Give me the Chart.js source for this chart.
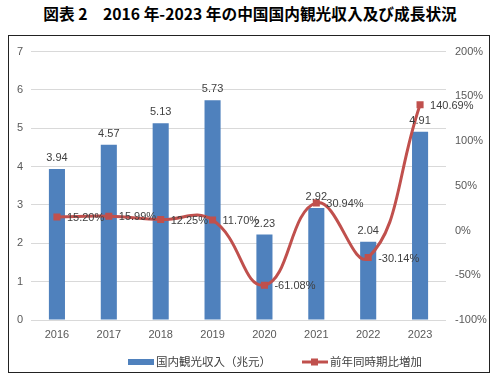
<!DOCTYPE html>
<html>
<head>
  <script src="https://cdnjs.cloudflare.com/ajax/libs/Chart.js/4.4.1/chart.umd.min.js"></script>
  <style>
    body {
      margin: 0;
      background: #fff;
      width: 500px;
      height: 380px;
      position: relative;
      font-family: "Noto Sans CJK JP", sans-serif;
    }
    .title {
      position: absolute;
      left: 0;
      top: 4px;
      width: 500px;
      text-align: center;
      font-size: 15.7px;
      font-weight: bold;
      line-height: 20px;
      color: #000;
    }
    .frame {
      position: absolute;
      left: 8px;
      top: 35px;
      width: 480px;
      height: 336px;
      border: 1px solid #222;
    }
  </style>
</head>
<body>
  <div class="title">図表 2　2016 年-2023 年の中国国内観光収入及び成長状況</div>
  <div class="frame">
    <canvas id="chart" width="480" height="336"></canvas>
  </div>

  <script>
    const years = ['2016', '2017', '2018', '2019', '2020', '2021', '2022', '2023'];
    const income = [3.94, 4.57, 5.13, 5.73, 2.23, 2.92, 2.04, 4.91];
    const growth = [15.20, 15.99, 12.25, 11.70, -61.08, 30.94, -30.14, 140.69];
    const incomeLabel = '国内観光収入（兆元）';
    const growthLabel = '前年同時期比増加';

    const blue = '#4f81bd';
    const red = '#c0504d';
    const numFont = '11px "Liberation Sans", sans-serif';

    // value labels + custom legend
    const labelsPlugin = {
      id: 'labels',
      afterDatasetsDraw(chart) {
        const ctx = chart.ctx;
        ctx.save();
        ctx.font = numFont;
        ctx.fillStyle = '#404040';
        const bars = chart.getDatasetMeta(0).data;
        ctx.textAlign = 'center';
        ctx.textBaseline = 'middle';
        bars.forEach((b, i) => {
          ctx.fillText(income[i].toFixed(2), b.x, b.y - 11);
        });
        const pts = chart.getDatasetMeta(1).data;
        ctx.textAlign = 'left';
        pts.forEach((p, i) => {
          ctx.fillText(growth[i].toFixed(2) + '%', p.x + 10, p.y + 1);
        });
        ctx.restore();
      },
      afterDraw(chart) {
        const ctx = chart.ctx;
        const y = 326;
        ctx.save();
        ctx.font = '11.5px "Noto Sans CJK JP", sans-serif';
        ctx.textBaseline = 'middle';
        ctx.textAlign = 'left';
        ctx.fillStyle = blue;
        ctx.fillRect(119, y - 3, 26, 6);
        ctx.fillStyle = '#404040';
        ctx.fillText(incomeLabel, 147, y);
        ctx.strokeStyle = red;
        ctx.lineWidth = 3;
        ctx.beginPath();
        ctx.moveTo(293, y);
        ctx.lineTo(319, y);
        ctx.stroke();
        ctx.fillStyle = red;
        ctx.fillRect(302, y - 3.5, 7, 7);
        ctx.fillStyle = '#404040';
        ctx.fillText(growthLabel, 321, y);
        ctx.restore();
      }
    };

    new Chart(document.getElementById('chart'), {
      type: 'bar',
      data: {
        labels: years,
        datasets: [{
          type: 'bar',
          label: incomeLabel,
          data: income,
          backgroundColor: blue,
          yAxisID: 'y',
          barPercentage: 0.31,
          categoryPercentage: 1,
          order: 1
        }, {
          type: 'line',
          label: growthLabel,
          data: growth,
          borderColor: red,
          backgroundColor: red,
          borderWidth: 3,
          pointStyle: 'rect',
          pointRadius: 5,
          pointBorderWidth: 0,
          tension: 0.45,
          yAxisID: 'y1',
          order: 0
        }]
      },
      options: {
        responsive: false,
        animation: false,
        layout: { padding: { top: 8, bottom: 27, left: 0, right: 0 } },
        plugins: {
          legend: { display: false },
          tooltip: { enabled: false }
        },
        scales: {
          x: {
            grid: { display: false, drawTicks: false },
            border: { display: false },
            ticks: { color: '#595959', font: { size: 11, family: 'Liberation Sans' }, padding: 8 },
            afterFit(s) { s.height = 25; }
          },
          y: {
            position: 'left',
            min: 0,
            max: 7,
            ticks: { stepSize: 1, color: '#595959', font: { size: 11, family: 'Liberation Sans' }, padding: 8 },
            grid: { color: '#d9d9d9', drawTicks: false },
            border: { display: false },
            afterFit(s) { s.width = 22; }
          },
          y1: {
            position: 'right',
            min: -100,
            max: 200,
            ticks: {
              stepSize: 50,
              color: '#595959',
              font: { size: 11, family: 'Liberation Sans' },
              padding: 9,
              callback: v => v + '%'
            },
            grid: { display: false, drawTicks: false },
            border: { display: false },
            afterFit(s) { s.width = 43; }
          }
        }
      },
      plugins: [labelsPlugin]
    });
  </script>
</body>
</html>
